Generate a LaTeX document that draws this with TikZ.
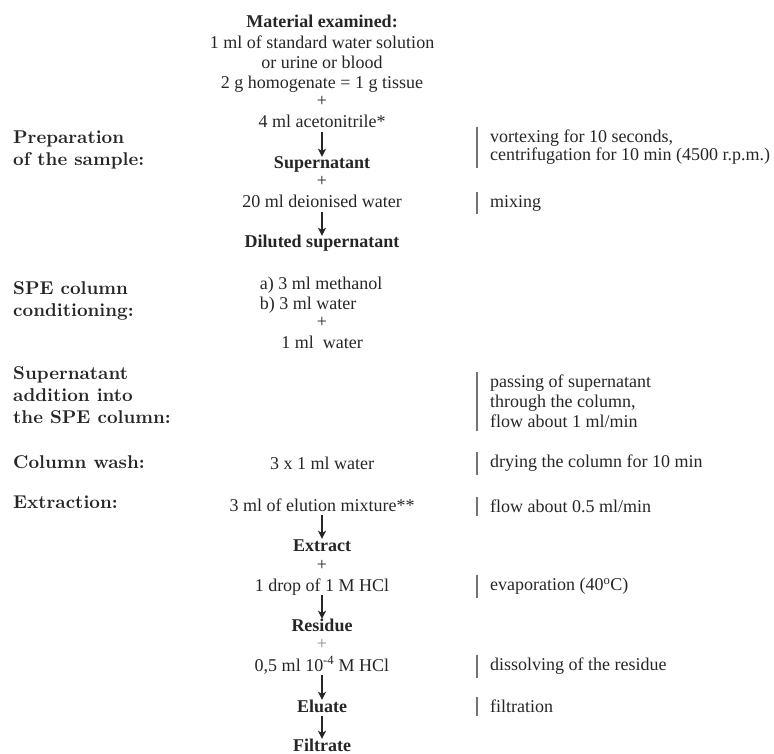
\documentclass[tikz,border=0pt]{standalone}
\usepackage{fontspec}
\usetikzlibrary{arrows.meta}
\setmainfont{Liberation Serif}
\newfontfamily\stagefont{lmroman10-bold.otf}
\begin{document}
\begin{tikzpicture}[x=1pt, y=1pt,
    item/.style={anchor=base, inner sep=0pt, text height=12pt, text depth=4pt, font=\fontsize{18}{20}\selectfont, text=black!85},
    product/.style={item, font=\fontsize{18}{20}\selectfont\bfseries},
    stage/.style={anchor=north west, inner sep=0pt, align=left, font=\fontsize{18.5}{22}\selectfont\stagefont, text=black!85},
    note/.style={anchor=north west, inner xsep=0pt, inner ysep=3pt, align=left, font=\fontsize{18}{20}\selectfont, text=black!85},
    bar/.style={draw=black!55, line width=1.9pt},
    arrow/.style={-{Stealth[length=8pt, width=8pt, inset=2pt]}, line width=1.4pt, draw=black!85}
]
    \useasboundingbox (0,0) rectangle (774,-754);

    % Stages on the left
    \node[stage] (prep) at (13,-130.5) {Preparation\\of the sample:};
    \node[stage] (spe) at (13,-281.5) {SPE column\\conditioning:};
    \node[stage] (addition) at (13,-366.5) {Supernatant\\addition into\\the SPE column:};
    \node[stage] (colwash) at (13,-455.5) {Column wash:};
    \node[stage] (extraction) at (13,-495.5) {Extraction:};

    % Sample preparation
    \node[product] (mat) at (322,-28) {Material examined:};
    \node[item] (std) at (322,-49) {1 ml of standard water solution};
    \node[item] (urine) at (322,-69) {or urine or blood};
    \node[item] (homog) at (322,-89) {2 g homogenate = 1 g tissue};
    \node[item] (plusa) at (322,-107) {+};
    \node[item] (acet) at (322,-128) {4 ml acetonitrile*};
    \node[product] (super) at (322,-169) {Supernatant};
    \node[item] (plusb) at (322,-187) {+};
    \node[item] (water) at (322,-208) {20 ml deionised water};
    \node[product] (diluted) at (322,-248) {Diluted supernatant};

    % Column conditioning
    \node[anchor=base, inner sep=0pt, align=left, font=\fontsize{18}{20}\selectfont, text=black!85] (cond) at (321,-309) {a) 3 ml methanol\\b) 3 ml water};
    \node[item] (plusc) at (322,-327) {+};
    \node[item] (condwater) at (322,-348) {1 ml\ \ water};

    % Wash and extraction
    \node[item] (wash) at (322,-469) {3 x 1 ml water};
    \node[item] (elution) at (322,-511) {3 ml of elution mixture**};
    \node[product] (extract) at (322,-551) {Extract};
    \node[item] (plusd) at (322,-570) {+};
    \node[item] (hcl) at (322,-591) {1 drop of 1 M HCl};
    \node[product] (residue) at (322,-631) {Residue};
    \node[item, text=black!45] (pluse) at (322,-649) {+};
    \node[item] (hcldil) at (322,-671) {0,5 ml 10\textsuperscript{-4} M HCl};
    \node[product] (eluate) at (322,-712) {Eluate};
    \node[product, text depth=0pt] (filtrate) at (322,-751) {Filtrate};

    % Arrows
    \draw[arrow] (acet) -- (super);
    \draw[arrow] (water) -- (diluted);
    \draw[arrow] (elution) -- (extract);
    \draw[arrow] (hcl) -- (residue);
    \draw[arrow] (hcldil) -- (eluate);
    \draw[arrow] (eluate) -- (filtrate);

    % Notes on the right
    \node[note, font=\fontsize{18}{18}\selectfont] (nvortex) at (490,-127) {vortexing for 10 seconds,\\centrifugation for 10 min (4500 r.p.m.)};
    \node[note] (nmix) at (490,-192) {mixing};
    \node[note] (npass) at (490,-372) {passing of supernatant\\through the column,\\flow about 1 ml/min};
    \node[note] (ndry) at (490,-452) {drying the column for 10 min};
    \node[note] (nflow) at (490,-497) {flow about 0.5 ml/min};
    \node[note] (nevap) at (490,-575) {evaporation (40\textsuperscript{o}C)};
    \node[note] (ndissolve) at (490,-655) {dissolving of the residue};
    \node[note] (nfilter) at (490,-697) {filtration};

    % Bars
    \draw[bar] ([xshift=-13pt]nvortex.north west) -- ([xshift=-13pt]nvortex.south west);
    \draw[bar] ([xshift=-13pt]nmix.north west) -- ([xshift=-13pt]nmix.south west);
    \draw[bar] ([xshift=-13pt]npass.north west) -- ([xshift=-13pt]npass.south west);
    \draw[bar] ([xshift=-13pt]ndry.north west) -- ([xshift=-13pt]ndry.south west);
    \draw[bar] ([xshift=-13pt]nflow.north west) -- ([xshift=-13pt]nflow.south west);
    \draw[bar] ([xshift=-13pt]nevap.north west) -- ([xshift=-13pt]nevap.south west);
    \draw[bar] ([xshift=-13pt]ndissolve.north west) -- ([xshift=-13pt]ndissolve.south west);
    \draw[bar] ([xshift=-13pt]nfilter.north west) -- ([xshift=-13pt]nfilter.south west);
\end{tikzpicture}
\end{document}
